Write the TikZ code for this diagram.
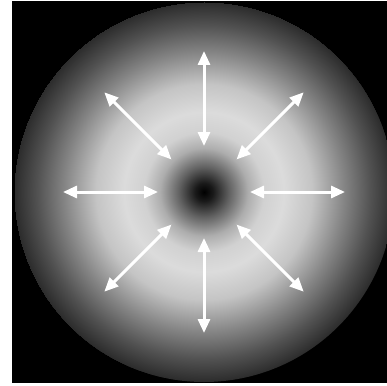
\documentclass[tikz,border=0pt]{standalone}
\usetikzlibrary{arrows.meta}
\definecolor{s1}{gray}{0.10}
\definecolor{s2}{gray}{0.38}
\definecolor{s3}{gray}{0.68}
\definecolor{s4}{gray}{0.82}
\definecolor{s5}{gray}{0.86}
\definecolor{s6}{gray}{0.77}
\definecolor{s7}{gray}{0.52}
\definecolor{s8}{gray}{0.32}
\definecolor{s9}{gray}{0.17}
\pgfdeclareradialshading{ring}{\pgfpoint{0pt}{0pt}}{%
color(0pt)=(black);
color(9pt)=(s1);
color(25pt)=(s2);
color(44pt)=(s3);
color(60pt)=(s4);
color(80pt)=(s5);
color(108pt)=(s6);
color(140pt)=(s7);
color(167pt)=(s8);
color(190pt)=(s9)}
\tikzset{
  twoway/.style={white, line width=3pt, {Triangle[length=14pt,width=12pt]}-{Triangle[length=14pt,width=12pt]}}
}
\begin{document}
\begin{tikzpicture}[x=1pt,y=-1pt]
\useasboundingbox (0,0) rectangle (387,385);
\fill[white] (0,0) rectangle (387,385);
\fill[black] (12,1) rectangle (387,383);
\coordinate (c) at (204,192);
\begin{scope}
  \clip (c) circle[radius=190];
  \node[inner sep=0pt, outer sep=0pt] (disc) at (c) {\pgfuseshading{ring}};
\end{scope}
\foreach \a in {0,45,...,315}{
  \path (c) ++(\a:46) coordinate (i\a);
  \path (c) ++(\a:141) coordinate (o\a);
  \draw[twoway] (i\a) -- (o\a);
}
\end{tikzpicture}
\end{document}
